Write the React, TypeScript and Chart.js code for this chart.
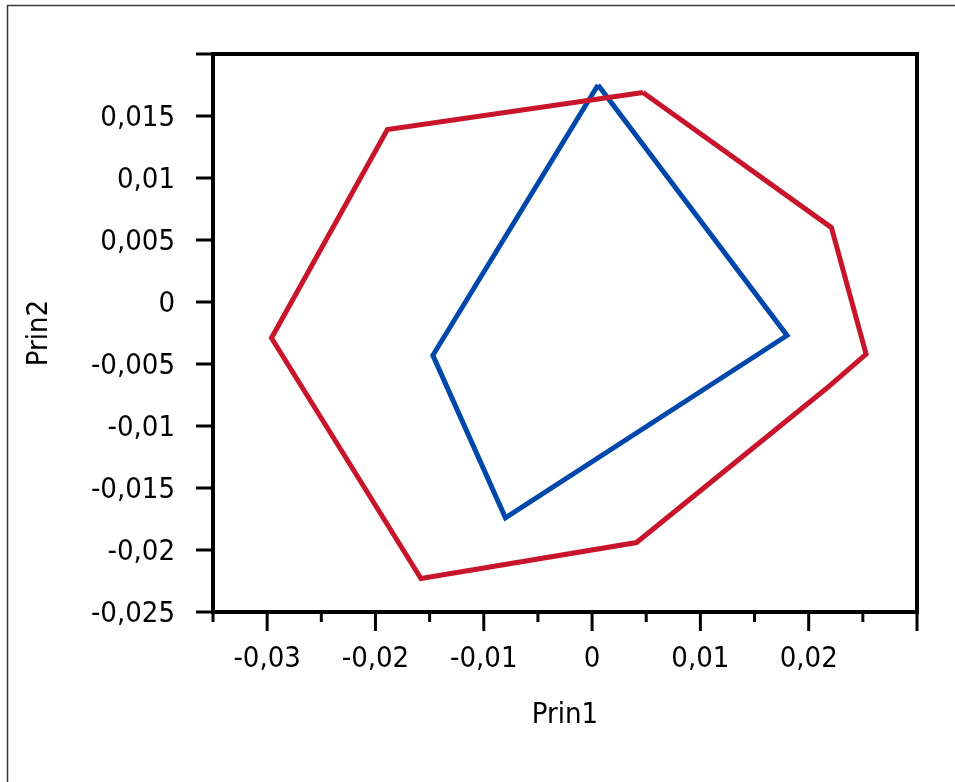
import React, { useEffect, useRef } from "react";
import { Chart, registerables } from "chart.js";

Chart.register(...registerables);

// Series (Prin1, Prin2) vertices, closed polygons
const redX = [0.0047, 0.0221, 0.0253, 0.0216, 0.0041, -0.0158, -0.0296, -0.0189, 0.0047];
const redY = [0.0169, 0.006, -0.0042, -0.007, -0.0194, -0.0223, -0.0029, 0.0139, 0.0169];
const blueX = [0.00055, 0.018, -0.008, -0.0147, 0.00055];
const blueY = [0.0175, -0.0027, -0.0174, -0.0043, 0.0175];

// Axis ticks
const xTickValues = [-0.035, -0.03, -0.025, -0.02, -0.015, -0.01, -0.005, 0, 0.005, 0.01, 0.015, 0.02, 0.025, 0.03];
const xTickLabels = ["", "-0,03", "", "-0,02", "", "-0,01", "", "0", "", "0,01", "", "0,02", "", ""];
const xTickMajor = [false, true, false, true, false, true, false, true, false, true, false, true, false, true];
const yTickValues = [-0.025, -0.02, -0.015, -0.01, -0.005, 0, 0.005, 0.01, 0.015, 0.02];
const yTickLabels = ["-0,025", "-0,02", "-0,015", "-0,01", "-0,005", "0", "0,005", "0,01", "0,015", ""];

const FONT = "'DejaVu Sans Condensed', 'DejaVu Sans', sans-serif";
const FSIZE = 29;

const framePlugin = {
  id: "framePlugin",
  beforeDraw(chart: any) {
    const ctx = chart.ctx;
    ctx.save();
    ctx.strokeStyle = "#3a3a3a";
    ctx.lineWidth = 1.5;
    ctx.beginPath();
    ctx.moveTo(7.5, 782);
    ctx.lineTo(7.5, 5.5);
    ctx.lineTo(955, 5.5);
    ctx.stroke();
    ctx.restore();
  },
  afterDraw(chart: any) {
    const { ctx, chartArea } = chart;
    const { left, top, right, bottom } = chartArea;
    const xs = chart.scales.x;
    const ys = chart.scales.y;
    ctx.save();
    ctx.strokeStyle = "#000";
    ctx.lineWidth = 3;
    ctx.lineCap = "butt";
    yTickValues.forEach((v) => {
      const py = ys.getPixelForValue(v);
      ctx.beginPath();
      ctx.moveTo(left - 17, py);
      ctx.lineTo(left, py);
      ctx.stroke();
    });
    xTickValues.forEach((v, i) => {
      const px = xs.getPixelForValue(v);
      const len = xTickMajor[i] ? 19 : 10;
      ctx.beginPath();
      ctx.moveTo(px, bottom);
      ctx.lineTo(px, bottom + len);
      ctx.stroke();
    });
    ctx.lineWidth = 4;
    ctx.strokeRect(left, top, right - left, bottom - top);
    ctx.restore();
  },
};

export default function App() {
  const ref = useRef<HTMLCanvasElement | null>(null);
  useEffect(() => {
    if (!ref.current) return;
    const chart = new Chart(ref.current, {
      type: "scatter",
      data: {
        datasets: [
          {
            label: "red",
            data: redX.map((x, i) => ({ x, y: redY[i] })),
            showLine: true,
            borderColor: "#C8152B",
            borderWidth: 5,
            pointRadius: 0,
            fill: false,
            tension: 0,
          },
          {
            label: "blue",
            data: blueX.map((x, i) => ({ x, y: blueY[i] })),
            showLine: true,
            borderColor: "#0047AB",
            borderWidth: 5,
            pointRadius: 0,
            fill: false,
            tension: 0,
          },
        ],
      },
      options: {
        animation: false,
        responsive: false,
        layout: { padding: { left: 0, top: 54, right: 38, bottom: 0 } },
        plugins: { legend: { display: false }, tooltip: { enabled: false } },
        scales: {
          x: {
            type: "linear",
            min: -0.035,
            max: 0.03,
            afterBuildTicks: (scale: any) => {
              scale.ticks = xTickValues.map((v) => ({ value: v }));
            },
            afterFit: (scale: any) => {
              scale.height = 170;
            },
            border: { display: false },
            grid: { drawOnChartArea: false, drawTicks: true, tickLength: 18, color: "transparent" },
            ticks: {
              autoSkip: false,
              maxRotation: 0,
              padding: 12,
              color: "#000",
              font: { family: FONT, size: FSIZE },
              callback: (_v: any, i: number) => xTickLabels[i],
            },
            title: {
              display: true,
              text: "Prin1",
              color: "#000",
              font: { family: FONT, size: FSIZE },
              padding: { top: 0, bottom: 49 },
            },
          },
          y: {
            type: "linear",
            min: -0.025,
            max: 0.02,
            afterBuildTicks: (scale: any) => {
              scale.ticks = yTickValues.map((v) => ({ value: v }));
            },
            afterFit: (scale: any) => {
              scale.width = 213;
            },
            border: { display: false },
            grid: { drawOnChartArea: false, drawTicks: true, tickLength: 17, color: "transparent" },
            ticks: {
              autoSkip: false,
              padding: 21,
              labelOffset: 2,
              color: "#000",
              font: { family: FONT, size: FSIZE },
              callback: (_v: any, i: number) => yTickLabels[i],
            },
            title: {
              display: true,
              text: "Prin2",
              color: "#000",
              font: { family: FONT, size: FSIZE },
              padding: { top: 22, bottom: 0 },
            },
          },
        },
      },
      plugins: [framePlugin],
    });
    return () => chart.destroy();
  }, []);
  return (
    <div style={{ position: "absolute", left: 0, top: 0, width: 955, height: 782 }}>
      <canvas ref={ref} width={955} height={782} style={{ display: "block" }} />
    </div>
  );
}
